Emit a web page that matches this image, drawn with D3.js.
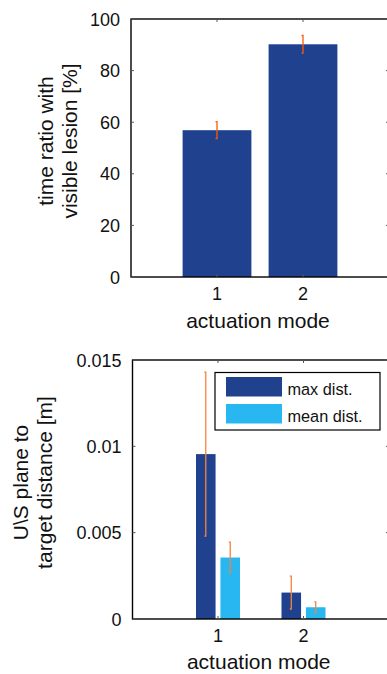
<!DOCTYPE html>
<html>
<head>
<meta charset="utf-8">
<script src="https://cdn.jsdelivr.net/npm/d3@7"></script>
<style>
  body { margin: 0; background: #fff; }
  svg { display: block; font-family: "Liberation Sans", Arial, sans-serif; }
</style>
</head>
<body>
<div id="chart"></div>
<script>
// data
const modes = [1, 2];
const lesionRatio = [56.9, 90.2];
const lesionErr = [3.3, 3.4];
const maxDist = [0.00955, 0.00153];
const maxDistErr = [0.00475, 0.00095];
const meanDist = [0.00356, 0.00068];
const meanDistErr = [0.00089, 0.00031];
const seriesNames = ['max dist.', 'mean dist.'];
const topTicks = [0, 20, 40, 60, 80, 100];
const bottomTicks = [0, 0.005, 0.01, 0.015];
const bottomTickLabels = ['0', '0.005', '0.01', '0.015'];

const darkBlue = '#20418e';
const lightBlue = '#29b7f2';

const width = 387, height = 674;

const svg = d3.select('#chart')
  .append('svg')
  .attr('width', width)
  .attr('height', height);

function drawAxes(g, x, y, ticks, labels, box, ylabelLines, ylabelX, xlabelY, tickLabelY) {
  const { top, bottom, left, right } = box;
  // box
  g.append('rect')
    .attr('x', left).attr('y', top)
    .attr('width', right - left).attr('height', bottom - top)
    .attr('fill', 'none')
    .attr('stroke', '#000')
    .attr('stroke-width', 1.4);

  // inward ticks, y
  ticks.forEach(t => {
    g.append('line')
      .attr('x1', left).attr('x2', left + 3)
      .attr('y1', y(t)).attr('y2', y(t))
      .attr('stroke', '#555').attr('stroke-width', 1);
    g.append('line')
      .attr('x1', right - 3).attr('x2', right)
      .attr('y1', y(t)).attr('y2', y(t))
      .attr('stroke', '#555').attr('stroke-width', 1);
    g.append('text')
      .attr('x', left - 11)
      .attr('y', y(t) + 6.5)
      .attr('text-anchor', 'end')
      .attr('font-size', 18)
      .attr('fill', '#111')
      .text(labels(t));
  });

  // inward ticks, x
  modes.forEach(m => {
    g.append('line')
      .attr('x1', x(m)).attr('x2', x(m))
      .attr('y1', top).attr('y2', top + 3)
      .attr('stroke', '#555').attr('stroke-width', 1);
    g.append('line')
      .attr('x1', x(m)).attr('x2', x(m))
      .attr('y1', bottom - 3).attr('y2', bottom)
      .attr('stroke', '#555').attr('stroke-width', 1);
    g.append('text')
      .attr('x', x(m))
      .attr('y', tickLabelY)
      .attr('text-anchor', 'middle')
      .attr('font-size', 18)
      .attr('fill', '#111')
      .text(m);
  });

  g.append('text')
    .attr('x', (left + right) / 2 - 2)
    .attr('y', xlabelY)
    .attr('text-anchor', 'middle')
    .attr('font-size', 21)
    .attr('fill', '#111')
    .text('actuation mode');

  const yl = g.append('text')
    .attr('transform', `translate(0, ${(top + bottom) / 2 - 7}) rotate(-90)`)
    .attr('text-anchor', 'middle')
    .attr('font-size', 21)
    .attr('fill', '#111');
  ylabelLines.forEach((line, i) => {
    yl.append('tspan')
      .attr('x', 0)
      .attr('y', ylabelX + i * 24)
      .text(line);
  });
}

function drawErrorBars(g, xs, vals, errs, y, color) {
  vals.forEach((v, i) => {
    const x0 = xs[i];
    const y1 = y(v + errs[i]), y2 = y(v - errs[i]);
    g.append('path')
      .attr('d', `M${x0 - 1.5},${y1}H${x0}V${y2}H${x0 - 1.5}`)
      .attr('fill', 'none')
      .attr('stroke', color)
      .attr('stroke-width', 1.3);
  });
}

// ---- top chart ----
const topG = svg.append('g');
const t = { top: 19, bottom: 277, left: 131, right: 389 };
const xTop = d3.scaleLinear().domain([0, 3]).range([t.left, t.right]);
const yTop = d3.scaleLinear().domain([0, 100]).range([t.bottom, t.top]);
const barW = xTop(0.8) - xTop(0);

topG.selectAll('rect.bar')
  .data(modes)
  .join('rect')
  .attr('class', 'bar')
  .attr('x', (d) => xTop(d) - barW / 2)
  .attr('y', (d, i) => yTop(lesionRatio[i]))
  .attr('width', barW)
  .attr('height', (d, i) => yTop(0) - yTop(lesionRatio[i]))
  .attr('fill', darkBlue);

drawErrorBars(topG, modes.map(m => xTop(m)), lesionRatio, lesionErr, yTop, '#ff5a00');

drawAxes(topG, xTop, yTop, topTicks, d => d, t,
  ['time ratio with', 'visible lesion [%]'], 53, 328, 300);

// ---- bottom chart ----
const botG = svg.append('g');
const b = { top: 360, bottom: 619, left: 132.5, right: 389 };
const xBot = d3.scaleLinear().domain([0, 3]).range([b.left, b.right]);
const yBot = d3.scaleLinear().domain([0, 0.015]).range([b.bottom, b.top]);
const groupOffset = 0.1429;
const gBarW = xBot(0.2286) - xBot(0);

const series = [
  { name: seriesNames[0], vals: maxDist, errs: maxDistErr, color: darkBlue, off: -groupOffset },
  { name: seriesNames[1], vals: meanDist, errs: meanDistErr, color: lightBlue, off: groupOffset }
];

series.forEach(s => {
  botG.append('g')
    .selectAll('rect')
    .data(modes)
    .join('rect')
    .attr('x', (d) => xBot(d + s.off) - gBarW / 2)
    .attr('y', (d, i) => yBot(s.vals[i]))
    .attr('width', gBarW)
    .attr('height', (d, i) => yBot(0) - yBot(s.vals[i]))
    .attr('fill', s.color);
});

series.forEach(s => {
  drawErrorBars(botG, modes.map(m => xBot(m + s.off)), s.vals, s.errs, yBot, '#f4843a');
});

drawAxes(botG, xBot, yBot, bottomTicks, d => bottomTickLabels[bottomTicks.indexOf(d)], b,
  ['U\\S plane to', 'target distance [m]'], 28, 669, 641.5);

// legend
const legend = botG.append('g');
legend.append('rect')
  .attr('x', 215).attr('y', 372.5)
  .attr('width', 165).attr('height', 57.5)
  .attr('fill', '#fff')
  .attr('stroke', '#000')
  .attr('stroke-width', 1.2);

series.forEach((s, i) => {
  legend.append('rect')
    .attr('x', 226).attr('y', 377 + i * 27)
    .attr('width', 56).attr('height', 19.5)
    .attr('fill', s.color);
  legend.append('text')
    .attr('x', 287.5).attr('y', 395 + i * 26.5)
    .attr('font-size', 16.3)
    .attr('fill', '#111')
    .text(s.name);
});
</script>
</body>
</html>
